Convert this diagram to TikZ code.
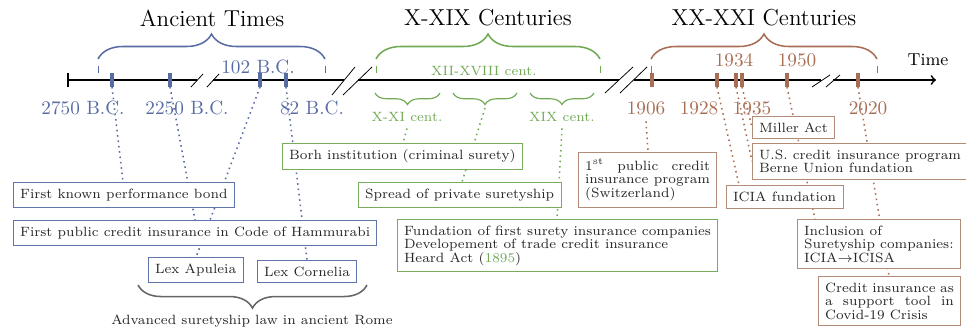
\documentclass[tikz,border=0pt]{standalone}
\usetikzlibrary{calc,decorations.pathreplacing}
\definecolor{antiq}{RGB}{88,108,164}
\definecolor{medieval}{RGB}{112,170,84}
\definecolor{contemp}{RGB}{168,110,84}
\definecolor{antiqbox}{RGB}{96,116,170}
\definecolor{medievalbox}{RGB}{118,172,92}
\definecolor{contempbox}{RGB}{178,138,120}
\pgfdeclarelayer{behind}
\pgfsetlayers{behind,main}
\tikzset{
  axis/.style={line width=0.9pt},
  datetick/.style={line width=1.6pt},
  era/.style={font=\large},
  yearlbl/.style={font=\normalsize},
  centlbl/.style={font=\scriptsize,medieval},
  event/.style={draw,fill=white,font=\fontsize{7}{7}\selectfont,inner xsep=3.5pt,inner ysep=3.3pt,text=black!85},
  link/.style={dotted,line width=0.8pt},
  bracetop/.style={decorate,decoration={brace,amplitude=13pt},line width=0.8pt},
  centbrace/.style={decorate,decoration={brace,mirror,amplitude=6pt},line width=0.6pt},
}
\begin{document}
\begin{tikzpicture}[x=0.52pt,y=-0.52pt]
\useasboundingbox (0,0) rectangle (966,330);
\draw[axis] (68,73)--(68,87);
\draw[axis] (68,80)--(197,80) (213,80)--(344,80) (358,80)--(619,80) (634,80)--(821,80);
\draw[axis,->] (833,80)--(936,80);
\draw (191,87)--(203,74) (207,87)--(219,74) (332,95)--(355,67) (343,95)--(372,67);
\draw (605,93)--(633,67) (620,93)--(647,67) (812,87)--(830,75) (826,87)--(840,75);
\node[font=\small] (time) at (928,60) {Time};
\foreach \x/\n in {112/t2750,170/t2250,260/t102,286/t82}
  \draw[datetick,antiq] (\x,73)--(\x,87) coordinate (\n);
\foreach \x/\n in {652/t1906,717/t1928,736/t1934,742/t1935,787/t1950,858/t2020}
  \draw[datetick,contemp] (\x,73)--(\x,87) coordinate (\n);
\node[yearlbl,antiq] (y2750) at (83,108) {2750 B.C.};
\node[yearlbl,antiq] (y2250) at (187,108) {2250 B.C.};
\node[yearlbl,antiq] (y102) at (258,67) {102 B.C.};
\node[yearlbl,antiq] (y82) at (312,108) {82 B.C.};
\node[yearlbl,contemp] (y1906) at (646,108) {1906};
\node[yearlbl,contemp] (y1928) at (699,108) {1928};
\node[yearlbl,contemp] (y1934) at (734,60) {1934};
\node[yearlbl,contemp] (y1935) at (752,108) {1935};
\node[yearlbl,contemp] (y1950) at (797,60) {1950};
\node[yearlbl,contemp] (y2020) at (868,108) {2020};
\draw[bracetop,antiq] (98,59)--(325,59);
\draw[antiq] (98,66)--(98,73) (325,66)--(325,73);
\node[era] (ancient) at (212,18) {Ancient Times};
\draw[bracetop,medieval] (376,59)--(600,59);
\draw[medieval] (376,66)--(376,73) (600,66)--(600,73);
\node[era] (xxix) at (488,18) {X-XIX Centuries};
\node[centlbl] (xiixviii) at (484,71) {XII-XVIII cent.};
\draw[centbrace,medieval] (375,93)--(440,93);
\draw[centbrace,medieval] (453,93)--(517,93);
\draw[centbrace,medieval] (530,93)--(594,93);
\coordinate (midcent) at (485,108);
\node[centlbl] (xxi) at (407,117) {X-XI cent.};
\node[centlbl] (xix) at (562,117) {XIX cent.};
\draw[bracetop,contemp] (651,59)--(877,59);
\draw[contemp] (651,66)--(651,73) (877,66)--(877,73);
\node[era] (xxxxi) at (764,18) {XX-XXI Centuries};
\node[event,draw=antiqbox,anchor=north west] (bond) at (13,182) {First known performance bond};
\node[event,draw=antiqbox,anchor=north west] (hamm) at (13,220) {First public credit insurance in Code of Hammurabi};
\node[event,draw=antiqbox,anchor=south west] (apul) at (148,283) {Lex Apuleia};
\node[event,draw=antiqbox,anchor=south west] (corn) at (257,283) {Lex Cornelia};
\draw[decorate,decoration={brace,mirror,amplitude=12pt},line width=0.8pt,black!60] (138,285)--(367,285);
\node[font=\scriptsize,text=black!85] (rome) at (252,321) {Advanced suretyship law in ancient Rome};
\node[event,draw=medievalbox,anchor=north west] (borh) at (282,143) {Borh institution (criminal surety)};
\node[event,draw=medievalbox,anchor=north west] (spread) at (358,182) {Spread of private suretyship};
\node[event,draw=medievalbox,anchor=north west,align=left] (fund) at (397,219) {Fundation of first surety insurance companies\\Developement of trade credit insurance\\Heard Act (\textcolor{medieval}{1895})};
\node[event,draw=contempbox,anchor=north west,text width=65pt,align=justify] (first) at (578,152) {1\textsuperscript{st} public credit\linebreak insurance program\linebreak (Switzerland)};
\node[event,draw=contempbox,anchor=north west] (miller) at (752,116) {Miller Act};
\node[event,draw=contempbox,anchor=north west,align=left] (us) at (752,143) {U.S. credit insurance program\\Berne Union fundation};
\node[event,draw=contempbox,anchor=north west] (icia) at (726,185) {ICIA fundation};
\node[event,draw=contempbox,anchor=north west,align=left] (incl) at (797,219) {Inclusion of\\Suretyship companies:\\ICIA$\rightarrow$ICISA};
\node[event,draw=contempbox,anchor=north west,text width=67pt,align=justify] (covid) at (818,276) {Credit insurance as\linebreak a support tool in\linebreak Covid-19 Crisis};
\begin{pgfonlayer}{behind}
\draw[link,antiq] (t2750)--($(bond.north west)+(110,0)$);
\draw[link,antiq] (t2250)--($(hamm.north west)+(182,0)$);
\draw[link,antiq] (t102)--($(apul.north west)+(48,0)$);
\draw[link,antiq] (t82)--($(corn.north west)+(50,0)$);
\draw[link,medieval] (xxi.south)--($(borh.north west)+(121,0)$);
\draw[link,medieval] (midcent)--($(spread.north west)+(104,0)$);
\draw[link,medieval] (xix.south)--($(fund.north west)+(160,0)$);
\draw[link,contemp] (y1906.south)--($(first.north west)+(70,0)$);
\draw[link,contemp] (t1928)--($(icia.north west)+(13,0)$);
\draw[link,contemp] (t1934)--(us.west);
\draw[link,contemp] (t1935)--(miller.west);
\draw[link,contemp] (t1950)--($(incl.north west)+(18,0)$);
\draw[link,contemp] (t2020)--($(covid.north west)+(71,0)$);
\end{pgfonlayer}
\end{tikzpicture}
\end{document}
